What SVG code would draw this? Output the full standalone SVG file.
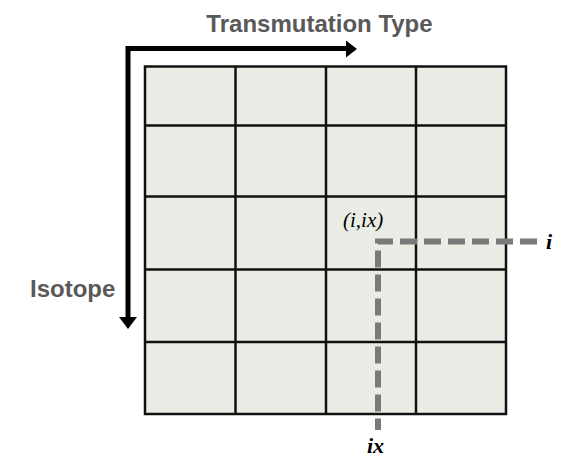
<svg xmlns="http://www.w3.org/2000/svg" width="564" height="457" viewBox="0 0 564 457">
<style>
.grid line{stroke:#111;stroke-width:2.5}
.axis{fill:none;stroke:#000;stroke-width:5}
.lbl{font-family:"Liberation Sans",Arial,sans-serif;font-weight:bold;font-size:24px;fill:#595959}
.math{font-family:"Liberation Serif","Times New Roman",serif;font-style:italic;font-size:21px;fill:#000}
.mb{font-weight:bold;font-size:22px}
.dash{fill:none;stroke:#7a7a7a;stroke-width:6;stroke-dasharray:17 7}
</style>
<rect width="564" height="457" fill="#fff"/>
<g id="grid" class="grid">
<rect x="145" y="66.5" width="361" height="347.5" fill="#e9ede6" stroke="#111" stroke-width="2.5"/>
<line x1="235.5" y1="66.5" x2="235.5" y2="414"/>
<line x1="326" y1="66.5" x2="326" y2="414"/>
<line x1="416" y1="66.5" x2="416" y2="414"/>
<line x1="145" y1="125.5" x2="506" y2="125.5"/>
<line x1="145" y1="196.5" x2="506" y2="196.5"/>
<line x1="145" y1="269.5" x2="506" y2="269.5"/>
<line x1="145" y1="342" x2="506" y2="342"/>
</g>
<g id="axes">
<path class="axis" d="M128,318 L128,48.5 L346,48.5"/>
<path d="M346,40.5 L357,49 L346,57.5 Z" fill="#000"/>
<path d="M119,317 L137,317 L128,329 Z" fill="#000"/>
</g>
<g id="labels">
<text class="lbl" x="319.5" y="32" text-anchor="middle">Transmutation Type</text>
<text class="lbl" x="30" y="297">Isotope</text>
</g>
<g id="connectors">
<path class="dash" d="M537,241.5 L378,241.5 L378,430"/>
</g>
<g id="math">
<text class="math" x="343" y="227">(i,ix)</text>
<text class="math mb" x="546" y="249">i</text>
<text class="math mb" x="367" y="453">ix</text>
</g>
</svg>
